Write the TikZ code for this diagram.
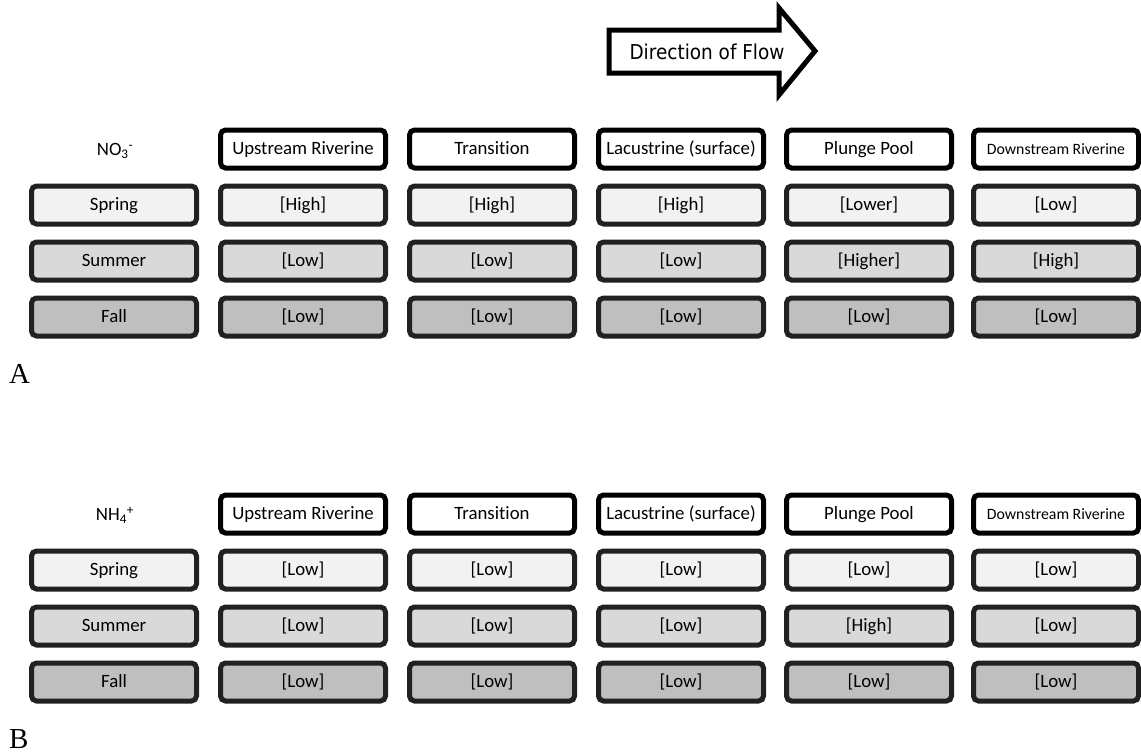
\documentclass[tikz,border=0pt]{standalone}
\usepackage{fontspec}
\setmainfont[Ligatures=NoCommon]{Carlito}
\newfontfamily\flowfont[FakeStretch=0.9]{DejaVu Sans}
\newfontfamily\panelfont{Liberation Serif}
\usepackage{xcolor}
\usepackage{tikz}

\definecolor{springgrey}{HTML}{F2F2F2}
\definecolor{summergrey}{HTML}{D9D9D9}
\definecolor{fallgrey}{HTML}{BFBFBF}

\begin{document}
\begin{tikzpicture}[
    x=1pt,
    y=-1pt,
    headbox/.style={
        draw=black,
        line width=5pt,
        rounded corners=5pt,
        fill=white,
        minimum width=165pt,
        minimum height=38pt,
        inner sep=0pt,
        text height=13.5pt,
        text depth=2.4pt,
        font=\fontsize{18.8}{21}\selectfont
    },
    seasonbox/.style={headbox, draw=black!87},
    springbox/.style={seasonbox, fill=springgrey},
    summerbox/.style={seasonbox, fill=summergrey},
    fallbox/.style={seasonbox, fill=fallgrey},
    ionlabel/.style={
        text height=13.5pt,
        text depth=2.4pt,
        font=\fontsize{18.8}{21}\selectfont
    },
    panellabel/.style={
        font=\panelfont\fontsize{29}{32}\selectfont,
        anchor=base west,
        inner sep=0pt
    }
]
\useasboundingbox (0,0) rectangle (1141,753);

% Flow arrow
\draw[line width=5pt, miter limit=4, fill=white]
(609,30) -- (779,30) -- (779,8) -- (815,51)
-- (779,95) -- (779,73) -- (609,73) -- cycle;
\node[font=\flowfont\fontsize{20.5}{22}\selectfont] (flow) at (707,52)
{Direction of Flow};

% Nitrate
\node[ionlabel] (A-ion) at (115,150) {NO\textsubscript{3}\textsuperscript{-}};
\node[headbox] (A-up) at (303,149) {Upstream Riverine};
\node[headbox] (A-tr) at (492,149) {Transition};
\node[headbox] (A-lac) at (681,149) {Lacustrine (surface)};
\node[headbox] (A-pp) at (869,149) {Plunge Pool};
\node[headbox, font=\fontsize{15.8}{18}\selectfont] (A-dn) at (1056,149)
{Downstream Riverine};

\node[springbox] (A-spring) at (114,205) {Spring};
\node[springbox] (A-spring-up) at (303,205) {[High]};
\node[springbox] (A-spring-tr) at (492,205) {[High]};
\node[springbox] (A-spring-lac) at (681,205) {[High]};
\node[springbox] (A-spring-pp) at (869,205) {[Lower]};
\node[springbox] (A-spring-dn) at (1056,205) {[Low]};

\node[summerbox] (A-summer) at (114,261) {Summer};
\node[summerbox] (A-summer-up) at (303,261) {[Low]};
\node[summerbox] (A-summer-tr) at (492,261) {[Low]};
\node[summerbox] (A-summer-lac) at (681,261) {[Low]};
\node[summerbox] (A-summer-pp) at (869,261) {[Higher]};
\node[summerbox] (A-summer-dn) at (1056,261) {[High]};

\node[fallbox] (A-fall) at (114,317) {Fall};
\node[fallbox] (A-fall-up) at (303,317) {[Low]};
\node[fallbox] (A-fall-tr) at (492,317) {[Low]};
\node[fallbox] (A-fall-lac) at (681,317) {[Low]};
\node[fallbox] (A-fall-pp) at (869,317) {[Low]};
\node[fallbox] (A-fall-dn) at (1056,317) {[Low]};

\node[panellabel] (A-label) at (9,383) {A};

% Ammonium
\node[ionlabel] (B-ion) at (115,515) {NH\textsubscript{4}\textsuperscript{+}};
\node[headbox] (B-up) at (303,514) {Upstream Riverine};
\node[headbox] (B-tr) at (492,514) {Transition};
\node[headbox] (B-lac) at (681,514) {Lacustrine (surface)};
\node[headbox] (B-pp) at (869,514) {Plunge Pool};
\node[headbox, font=\fontsize{15.8}{18}\selectfont] (B-dn) at (1056,514)
{Downstream Riverine};

\node[springbox] (B-spring) at (114,570) {Spring};
\node[springbox] (B-spring-up) at (303,570) {[Low]};
\node[springbox] (B-spring-tr) at (492,570) {[Low]};
\node[springbox] (B-spring-lac) at (681,570) {[Low]};
\node[springbox] (B-spring-pp) at (869,570) {[Low]};
\node[springbox] (B-spring-dn) at (1056,570) {[Low]};

\node[summerbox] (B-summer) at (114,626) {Summer};
\node[summerbox] (B-summer-up) at (303,626) {[Low]};
\node[summerbox] (B-summer-tr) at (492,626) {[Low]};
\node[summerbox] (B-summer-lac) at (681,626) {[Low]};
\node[summerbox] (B-summer-pp) at (869,626) {[High]};
\node[summerbox] (B-summer-dn) at (1056,626) {[Low]};

\node[fallbox] (B-fall) at (114,682) {Fall};
\node[fallbox] (B-fall-up) at (303,682) {[Low]};
\node[fallbox] (B-fall-tr) at (492,682) {[Low]};
\node[fallbox] (B-fall-lac) at (681,682) {[Low]};
\node[fallbox] (B-fall-pp) at (869,682) {[Low]};
\node[fallbox] (B-fall-dn) at (1056,682) {[Low]};

\node[panellabel] (B-label) at (9,748) {B};

\end{tikzpicture}
\end{document}
